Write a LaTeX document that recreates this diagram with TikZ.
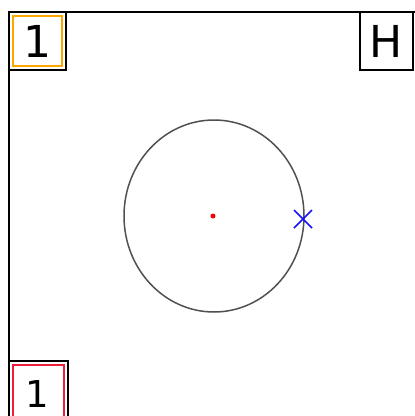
\documentclass[tikz,border=0pt]{standalone}
\usepackage{fontspec}
\usepackage{tikz}
\setmainfont{DejaVu Sans}
\definecolor{cvOrange}{RGB}{255,165,  0}
\definecolor{cvRed}   {RGB}{235, 30, 60}
\definecolor{cvBlue}  {RGB}{ 20, 20,245}
\definecolor{cvGrey}  {RGB}{ 80, 80, 80}
\begin{document}
\begin{tikzpicture}[
  x=1pt,y=-1pt,
  frame/.style={line width=2.5pt,black},
  inbox/.style={line width=2.2pt},
  lbl/.style={inner sep=0pt,font=\fontsize{44}{44}\selectfont},
  ring/.style={line width=1.5pt,cvGrey}
]
\useasboundingbox (0,0) rectangle (415,416);
\draw[frame] (9,418) -- (9,12) -- (417,12);

% corner boxes
\draw[frame] (9,12) rectangle (66,70);
\draw[inbox,cvOrange] (13,16) rectangle (62,66);
\node[lbl] (tl) at (37.5,41) {1};
\draw[frame] (360,12) rectangle (413,70);
\node[lbl] (tr) at (386.5,41) {H};
\draw[frame] (9,361) rectangle (68,420);
\draw[inbox,cvRed] (13,365) rectangle (64,420);
\node[lbl,font=\fontsize{37}{37}\selectfont] (bl) at (37,394) {1};

% circle, centre and marker
\draw[ring] (214,216) ellipse (90 and 96);
\fill[red] (213,216) circle (2.5);
\coordinate (hit) at (303,219);
\draw[cvBlue,line width=1.6pt] ([shift={(-9,-9)}]hit) -- ([shift={(9,9)}]hit)
  ([shift={(-9,9)}]hit) -- ([shift={(9,-9)}]hit);
\end{tikzpicture}
\end{document}
